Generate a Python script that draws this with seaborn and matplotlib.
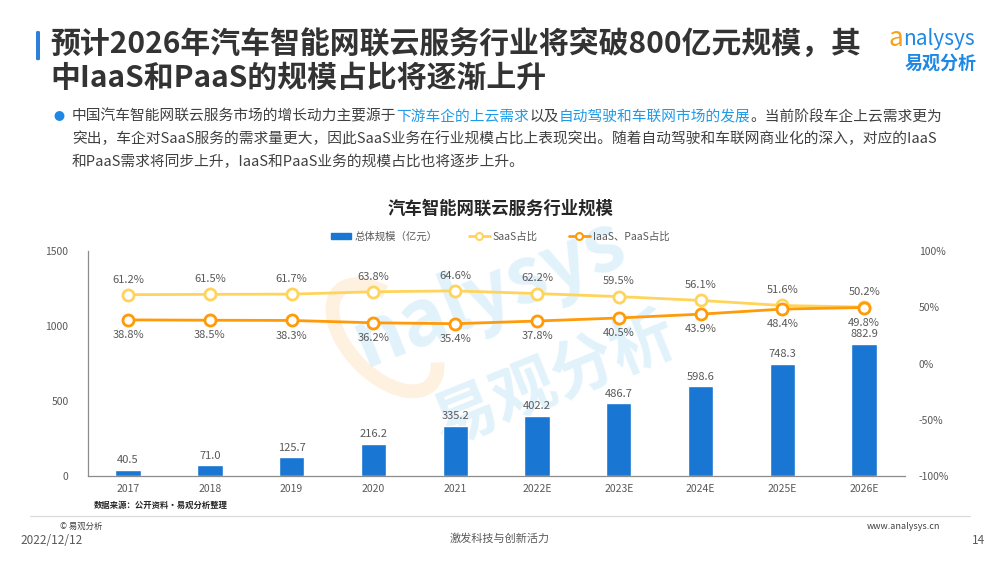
import numpy as np
import pandas as pd
import matplotlib
matplotlib.use("Agg")
import matplotlib.pyplot as plt
from matplotlib.lines import Line2D
from matplotlib.patches import Patch, FancyBboxPatch, Arc
import seaborn as sns

# data
years = ["2017", "2018", "2019", "2020", "2021", "2022E", "2023E", "2024E", "2025E", "2026E"]
total_scale = [40.5, 71.0, 125.7, 216.2, 335.2, 402.2, 486.7, 598.6, 748.3, 882.9]
saas_share = [61.2, 61.5, 61.7, 63.8, 64.6, 62.2, 59.5, 56.1, 51.6, 50.2]
iaas_paas_share = [38.8, 38.5, 38.3, 36.2, 35.4, 37.8, 40.5, 43.9, 48.4, 49.8]

left_ticks = [0, 500, 1000, 1500]
right_ticks = [-100, -50, 0, 50, 100]

BLUE = "#1976D2"
SAAS = "#FFD45C"
IAAS = "#FF9A0A"
GRAY = "#595959"

sns.set_style("white")
plt.rcParams["font.family"] = ["Noto Sans CJK SC", "DejaVu Sans"]

df = pd.DataFrame({"year": years, "pos": range(len(years)), "total": total_scale,
                   "saas": saas_share, "iaas": iaas_paas_share})

fig = plt.figure(figsize=(10, 5.63), dpi=100)
fig.patch.set_facecolor("white")

# watermark (behind the chart)
fig.text(0.49, 0.48, "nalysys", fontsize=56, color="#E2F2FB", fontweight="bold",
         rotation=22, ha="center", va="center", style="italic", zorder=-2)
fig.text(0.555, 0.325, "易观分析", fontsize=46, color="#E2F2FB", fontweight="bold",
         rotation=22, ha="center", va="center", zorder=-2)
fig.add_artist(Arc((0.385, 0.40), 0.085, 0.20, angle=20, theta1=70, theta2=300,
                   transform=fig.transFigure, color="#FEF1DF", lw=10, zorder=-2))

ax = fig.add_axes([0.088, 0.1545, 0.817, 0.3996])
ax.patch.set_alpha(0)
sns.barplot(data=df, x="pos", y="total", color=BLUE, width=0.31, saturation=1, ax=ax,
            native_scale=True)
for x, v in zip(df["pos"], df["total"]):
    ax.text(x, v + 30, f"{v:.1f}", ha="center", va="bottom", fontsize=8, color=GRAY)
ax.set_ylim(0, 1500)
ax.set_yticks(left_ticks)
ax.set_xlim(-0.49, 9.5)
ax.set_xticks(df["pos"])
ax.set_xticklabels(years)
ax.set_xlabel("")
ax.set_ylabel("")
ax.tick_params(axis="both", labelsize=7.5, colors=GRAY, length=0)
ax.tick_params(axis="y", pad=14)
ax.tick_params(axis="x", pad=6)
for s in ["top", "right"]:
    ax.spines[s].set_visible(False)
for s in ["left", "bottom"]:
    ax.spines[s].set_color("#8C8C8C")
    ax.spines[s].set_linewidth(0.9)

ax2 = ax.twinx()
sns.lineplot(data=df, x="pos", y="saas", color=SAAS, lw=2, marker="o", markersize=8,
             markerfacecolor="white", markeredgecolor=SAAS, markeredgewidth=2, ax=ax2)
sns.lineplot(data=df, x="pos", y="iaas", color=IAAS, lw=2, marker="o", markersize=8,
             markerfacecolor="white", markeredgecolor=IAAS, markeredgewidth=2, ax=ax2)
for x, s, i in zip(df["pos"], df["saas"], df["iaas"]):
    ax2.text(x, s + 9, f"{s:.1f}%", ha="center", va="bottom", fontsize=8, color=GRAY)
    ax2.text(x, i - 9, f"{i:.1f}%", ha="center", va="top", fontsize=8, color=GRAY)
ax2.set_ylim(-100, 100)
ax2.set_yticks(right_ticks)
ax2.set_yticklabels([f"{t}%" for t in right_ticks])
ax2.set_ylabel("")
ax2.tick_params(axis="y", labelsize=7.5, colors=GRAY, length=0, pad=10)
for s in ["top", "right", "left", "bottom"]:
    ax2.spines[s].set_visible(False)
ax2.set_xlim(-0.49, 9.5)

# chart title + legend
fig.text(0.5, 0.630, "汽车智能网联云服务行业规模", ha="center", va="center",
         fontsize=12.5, fontweight="bold", color="#262626")
handles = [Patch(facecolor=BLUE, edgecolor=BLUE),
           Line2D([], [], color=SAAS, lw=2, marker="o", markersize=5,
                  markerfacecolor="white", markeredgewidth=1.5),
           Line2D([], [], color=IAAS, lw=2, marker="o", markersize=5,
                  markerfacecolor="white", markeredgewidth=1.5)]
fig.legend(handles, ["总体规模（亿元）", "SaaS占比", "IaaS、PaaS占比"], loc="center",
           bbox_to_anchor=(0.5, 0.580), ncol=3, frameon=False, fontsize=7.5,
           labelcolor=GRAY, handlelength=2.0, handleheight=0.6, columnspacing=3.0,
           handletextpad=0.3)

# slide title
fig.add_artist(FancyBboxPatch((0.036, 0.893), 0.004, 0.052, boxstyle="round,pad=0,rounding_size=0.002",
                              transform=fig.transFigure, color="#2E7FD9", lw=0))
fig.text(0.05, 0.921, "预计2026年汽车智能网联云服务行业将突破800亿元规模，其", fontsize=21.5,
         fontweight="bold", color="#333333", va="center")
fig.text(0.05, 0.862, "中IaaS和PaaS的规模占比将逐渐上升", fontsize=21.5,
         fontweight="bold", color="#333333", va="center")

# logo
fig.text(0.888, 0.931, "a", fontsize=19, color="#F7A11A", va="center", style="italic")
fig.text(0.903, 0.931, "nalysys", fontsize=15, color="#1E88E5", va="center")
fig.text(0.905, 0.888, "易观分析", fontsize=13, color="#1E88E5", va="center", fontweight="bold")

# bullet paragraph with highlighted parts
fig.text(0.054, 0.793, "●", fontsize=8, color="#1E88E5", va="center")
lines = [
    [("中国汽车智能网联云服务市场的增长动力主要源于", "#404040"), ("下游车企的上云需求", "#1E9BE8"),
     ("以及", "#404040"), ("自动驾驶和车联网市场的发展", "#1E9BE8"),
     ("。当前阶段车企上云需求更为", "#404040")],
    [("突出，车企对SaaS服务的需求量更大，因此SaaS业务在行业规模占比上表现突出。随着自动驾驶和车联网商业化的深入，对应的IaaS", "#404040")],
    [("和PaaS需求将同步上升，IaaS和PaaS业务的规模占比也将逐步上升。", "#404040")],
]
fig.canvas.draw()
renderer = fig.canvas.get_renderer()
for k, segs in enumerate(lines):
    x = 0.072
    y = 0.793 - k * 0.040
    for txt, col in segs:
        t = fig.text(x, y, txt, fontsize=10.6, color=col, va="center")
        bb = t.get_window_extent(renderer=renderer)
        x += bb.width / fig.bbox.width

# footer
fig.text(0.094, 0.103, "数据来源：公开资料·易观分析整理", fontsize=6, fontweight="bold", color="#262626",
         va="center")
fig.add_artist(Line2D([0.03, 0.97], [0.083, 0.083], transform=fig.transFigure, color="#D9D9D9", lw=0.8))
fig.text(0.06, 0.065, "© 易观分析", fontsize=6, color="#404040", va="center")
fig.text(0.94, 0.065, "www.analysys.cn", fontsize=6.5, color="#404040", va="center", ha="right")
fig.text(0.02, 0.040, "2022/12/12", fontsize=8.5, color="#595959", va="center")
fig.text(0.5, 0.043, "激发科技与创新活力", fontsize=8, color="#595959", va="center", ha="center")
fig.text(0.985, 0.040, "14", fontsize=8.5, color="#595959", va="center", ha="right")

fig.savefig("out.png", dpi=100)
